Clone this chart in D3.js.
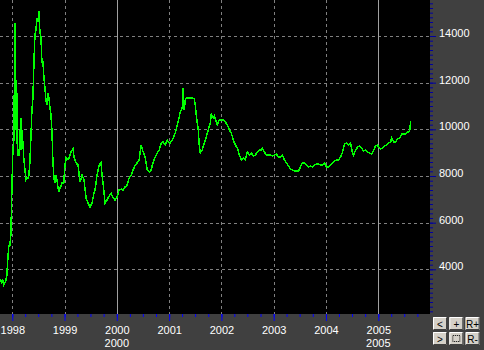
<!DOCTYPE html>
<html>
<head>
<meta charset="utf-8">
<script src="https://cdn.jsdelivr.net/npm/d3@7"></script>
<style>
body { margin: 0; background: #404040; }
svg text { font-family: "Liberation Sans", Arial, sans-serif; font-size: 11px; }
</style>
</head>
<body>
<div class="chart-container"></div>
<script>
// weekly closes, "year-week"
var weeks = [
    "1997-40","1997-41","1997-42","1997-43","1997-44","1997-45","1997-46","1997-47","1997-48","1997-49","1997-50","1997-51",
    "1998-00","1998-01","1998-02","1998-03","1998-03","1998-04","1998-05","1998-05","1998-06","1998-07","1998-08","1998-09","1998-09",
    "1998-10","1998-11","1998-12","1998-13","1998-14","1998-15","1998-16","1998-17","1998-18","1998-19","1998-20","1998-21","1998-22",
    "1998-23","1998-24","1998-25","1998-26","1998-27","1998-28","1998-29","1998-30","1998-31","1998-32","1998-33","1998-34","1998-35",
    "1998-36","1998-37","1998-38","1998-39","1998-40","1998-41","1998-42","1998-43","1998-44","1998-45","1998-46","1998-47","1998-48",
    "1998-49","1998-50","1998-51","1998-52",
    "1999-00","1999-01","1999-02","1999-03","1999-05","1999-07","1999-09","1999-10","1999-12","1999-14","1999-16","1999-18","1999-20",
    "1999-22","1999-24","1999-26","1999-28","1999-30","1999-31","1999-33","1999-35","1999-37","1999-38","1999-39","1999-41","1999-43",
    "1999-45","1999-47","1999-49","1999-51",
    "2000-01","2000-03","2000-05","2000-07","2000-09","2000-11","2000-13","2000-15","2000-17","2000-19","2000-21","2000-23","2000-25",
    "2000-27","2000-29","2000-31","2000-33","2000-35","2000-37","2000-39","2000-41","2000-43","2000-45","2000-47","2000-49","2000-51",
    "2001-00","2001-02","2001-04","2001-05","2001-07","2001-09","2001-11","2001-12","2001-14","2001-15","2001-16","2001-17","2001-18",
    "2001-20","2001-22","2001-24","2001-26","2001-27","2001-28","2001-30","2001-31","2001-32","2001-34","2001-36","2001-38","2001-40",
    "2001-42","2001-43","2001-45","2001-46","2001-48","2001-49","2001-51",
    "2002-02","2002-04","2002-06","2002-08","2002-10","2002-12","2002-14","2002-16","2002-18","2002-20","2002-22","2002-24","2002-26",
    "2002-28","2002-30","2002-32","2002-34","2002-36","2002-38","2002-40","2002-41","2002-43","2002-45","2002-47","2002-49","2002-51",
    "2003-01","2003-03","2003-05","2003-07","2003-09","2003-11","2003-13","2003-15","2003-17","2003-19","2003-21","2003-23","2003-25",
    "2003-27","2003-29","2003-31","2003-33","2003-35","2003-37","2003-39","2003-41","2003-43","2003-45","2003-47","2003-49","2003-51",
    "2004-01","2004-03","2004-05","2004-07","2004-09","2004-11","2004-13","2004-15","2004-17","2004-19","2004-21","2004-23","2004-25",
    "2004-27","2004-28","2004-30","2004-32","2004-34","2004-36","2004-38","2004-40","2004-42","2004-44","2004-46","2004-48","2004-50",
    "2004-52",
    "2005-01","2005-03","2005-05","2005-07","2005-09","2005-11","2005-13","2005-14","2005-16","2005-18","2005-20","2005-22","2005-24",
    "2005-26","2005-28","2005-30","2005-32","2005-33"
];

var prices = [
    3460,3540,3420,3540,3330,3410,3540,3760,4490,5000,5040,5470,
    7490,9110,9540,14560,9970,12110,11470,9670,8900,8900,9630,10490,9110,
    9970,9410,8690,8260,7830,7910,7910,8040,8600,9670,10830,11340,12840,
    14040,14260,14770,14600,15070,14130,13960,12890,12890,12200,11770,11260,11040,
    11560,11340,10910,10660,9890,8560,7910,7700,8040,7830,7490,7310,7490,
    7570,7700,7700,7740,
    7910,8470,8770,8690,8770,9030,9160,8810,8560,8470,7740,8040,7830,
    7060,6840,6670,6840,7270,7400,8040,8470,8560,8040,7700,6840,6970,
    7140,7270,7060,6970,
    7100,7400,7440,7400,7530,7610,7910,8040,8260,8470,8560,8690,9330,
    9030,8810,8260,8170,8260,8600,8810,8990,9110,9400,9460,9330,9540,
    9460,9410,9540,9630,9840,10190,10530,10740,10910,11770,10830,11260,11340,
    11340,11340,11340,11300,11040,10610,9970,9330,8990,9110,9410,9670,9970,
    10270,10660,10490,10570,10310,10190,10400,
    10400,10310,10190,9970,9840,9540,9330,9200,8900,8690,8770,8690,9030,
    8900,8990,8860,8900,9030,9110,9110,9200,9030,8900,8900,8900,8860,
    8900,8940,8810,8810,8900,8690,8560,8430,8300,8260,8210,8210,8210,
    8390,8560,8560,8470,8390,8430,8390,8470,8510,8510,8470,8470,8560,
    8390,8390,8470,8560,8640,8690,8690,8810,9030,9370,9410,9330,9410,
    8990,8900,9110,9240,9290,9200,9070,9110,9030,8990,8940,9110,9290,
    9330,
    9240,9160,9200,9290,9330,9410,9460,9630,9460,9460,9590,9630,9800,
    9800,9800,9880,9930,10370
];

var yLabels = [4000, 6000, 8000, 10000, 12000, 14000];
var secondRowYears = [2000, 2005];
var solidYears = [2000, 2005];
var buttonLabels = ["<", "+", "R+", ">", "", "R-"];

var width = 484, height = 350;
var plotW = 430, plotH = 314;

var parseWeek = d3.timeParse("%Y-%W");
var data = weeks.map(function(w, i) {
    return { fecha: parseWeek(w), valor: prices[i] };
});

var svg = d3.select('.chart-container')
    .append('svg')
    .attr("width", width)
    .attr("height", height);

svg.append("rect")
    .attr("width", width)
    .attr("height", height)
    .attr("fill", "#404040");

svg.append("rect")
    .attr("width", plotW)
    .attr("height", plotH)
    .attr("fill", "#000");

var x = d3.scaleTime()
    .domain([new Date(1997, 9, 7), new Date(2005, 11, 28)])
    .range([0, plotW]);

var y = d3.scaleLinear()
    .domain([2086, 15543])
    .range([plotH, 0]);

var years = d3.timeYear.range(new Date(1998, 0, 1), new Date(2006, 0, 1));

// grid
svg.append("g").selectAll("line")
    .data(yLabels)
    .enter().append("line")
    .attr("x1", 0).attr("x2", plotW)
    .attr("y1", function(d) { return Math.round(y(d)) + 0.5; })
    .attr("y2", function(d) { return Math.round(y(d)) + 0.5; })
    .attr("stroke", "#808080")
    .attr("stroke-dasharray", "3,3");

svg.append("g").selectAll("line")
    .data(years)
    .enter().append("line")
    .attr("x1", function(d) { return Math.round(x(d)) + 0.5; })
    .attr("x2", function(d) { return Math.round(x(d)) + 0.5; })
    .attr("y1", 0).attr("y2", plotH)
    .attr("stroke", function(d) { return solidYears.indexOf(d.getFullYear()) >= 0 ? "#a0a0a0" : "#808080"; })
    .attr("stroke-dasharray", function(d) { return solidYears.indexOf(d.getFullYear()) >= 0 ? null : "3,3"; });

var line = d3.line()
    .x(function(d) { return x(d.fecha); })
    .y(function(d) { return y(d.valor); });

svg.append("path")
    .datum(data)
    .attr("fill", "none")
    .attr("stroke", "#00ff00")
    .attr("stroke-width", 1.5)
    .attr("shape-rendering", "crispEdges")
    .attr("d", line);

// x axis
var xMinor = d3.axisBottom(x)
    .ticks(d3.timeMonth.every(3))
    .tickSize(3)
    .tickFormat("");

var xAxis = d3.axisBottom(x)
    .tickValues(years)
    .tickSize(7)
    .tickPadding(5)
    .tickFormat(d3.timeFormat("%Y"));

var gxm = svg.append("g")
    .attr("transform", "translate(0," + plotH + ")")
    .call(xMinor);
var gx = svg.append("g")
    .attr("transform", "translate(0," + plotH + ")")
    .call(xAxis);

[gxm, gx].forEach(function(g) {
    g.select(".domain").remove();
    g.selectAll(".tick line").attr("stroke", "#0000ff");
    g.selectAll("text").attr("fill", "#fff").style("font-size", "11px")
        .style("font-family", "'Liberation Sans', Arial, sans-serif");
});

svg.append("g").selectAll("text")
    .data(secondRowYears)
    .enter().append("text")
    .attr("x", function(d) { return x(new Date(d, 0, 1)); })
    .attr("y", 347)
    .attr("text-anchor", "middle")
    .attr("fill", "#fff")
    .text(function(d) { return d; });

// y axis
var yMinor = d3.axisRight(y)
    .tickValues(d3.range(2200, 15600, 200))
    .tickSize(3)
    .tickFormat("");

var yAxis = d3.axisRight(y)
    .tickValues(yLabels)
    .tickSize(6)
    .tickPadding(3)
    .tickFormat(d3.format("d"));

var gym = svg.append("g")
    .attr("transform", "translate(" + plotW + ",0)")
    .call(yMinor);
var gy = svg.append("g")
    .attr("transform", "translate(" + plotW + ",0)")
    .call(yAxis);

[gym, gy].forEach(function(g) {
    g.select(".domain").remove();
    g.selectAll(".tick line").attr("stroke", "#0000a0");
    g.selectAll("text").attr("fill", "#fff").attr("dy", "0.05em").style("font-size", "11px")
        .style("font-family", "'Liberation Sans', Arial, sans-serif");
});

// buttons
var btn = svg.append("g").selectAll("g")
    .data(buttonLabels)
    .enter().append("g")
    .attr("transform", function(d, i) {
        return "translate(" + (433 + (i % 3) * 16.3) + "," + (317 + Math.floor(i / 3) * 15) + ")";
    });

btn.append("rect")
    .attr("width", 14).attr("height", 13)
    .attr("fill", "#d4d0c8");
btn.append("path")
    .attr("d", "M0.5,12.5V0.5H13.5")
    .attr("fill", "none").attr("stroke", "#fff");
btn.append("path")
    .attr("d", "M0.5,12.5H13.5V0.5")
    .attr("fill", "none").attr("stroke", "#404040");
btn.append("text")
    .attr("x", 7).attr("y", 10.5)
    .attr("text-anchor", "middle")
    .attr("fill", "#000")
    .style("font-size", "10px")
    .text(function(d) { return d; });
btn.filter(function(d) { return d === ""; })
    .append("rect")
    .attr("x", 3.5).attr("y", 3.5).attr("width", 7).attr("height", 6)
    .attr("fill", "none").attr("stroke", "#000").attr("stroke-dasharray", "1,1");
</script>
</body>
</html>
